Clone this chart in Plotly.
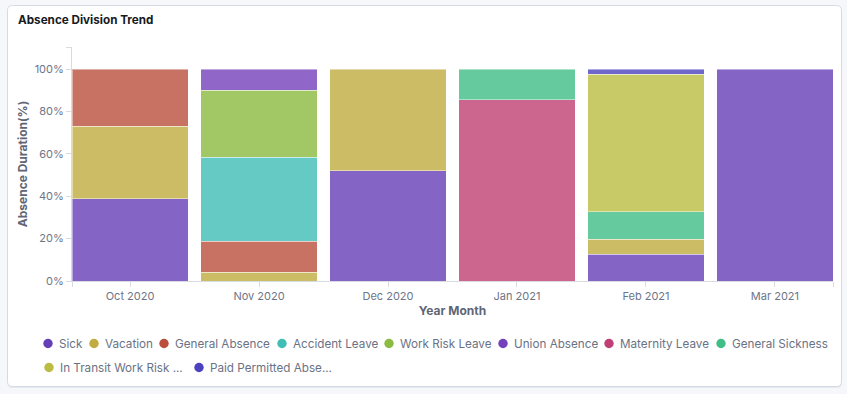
import plotly.graph_objects as go

# ---------------- data ----------------
months = ["Oct 2020", "Nov 2020", "Dec 2020", "Jan 2021", "Feb 2021", "Mar 2021"]
series_names = ["Sick", "Vacation", "General Absence", "Accident Leave", "Work Risk Leave",
                "Union Absence", "Maternity Leave", "General Sickness",
                "In Transit Work Risk Leave", "Paid Permitted Absence"]
legend_labels = ["Sick", "Vacation", "General Absence", "Accident Leave", "Work Risk Leave",
                 "Union Absence", "Maternity Leave", "General Sickness",
                 "In Transit Work Risk ...", "Paid Permitted Abse..."]

sick             = [38.7, None, 51.9, None, 12.6, 100.0]
vacation         = [34.4, 4.2, 48.1, None, 7.1, None]
general_absence  = [26.9, 14.6, None, None, None, None]
accident_leave   = [None, 39.5, None, None, None, None]
work_risk_leave  = [None, 31.8, None, None, None, None]
union_absence    = [None, 9.9, None, None, None, None]
maternity_leave  = [None, None, None, 85.4, None, None]
general_sickness = [None, None, None, 14.6, 13.0, None]
in_transit       = [None, None, None, None, 64.8, None]
paid_permitted   = [None, None, None, None, 2.5, None]

y_tick_values = [0, 20, 40, 60, 80, 100]
y_tick_labels = ["0%", "20%", "40%", "60%", "80%", "100%"]

# ---------------- styles ----------------
colors = ["#663fb8", "#c0ac40", "#bb4f3d", "#40beb6", "#8bbb41",
          "#7541bb", "#c04074", "#40be88", "#babd42", "#4c42c0"]
W, H = 847, 394
L, R, T, B = 72, 14, 47, 113
PW, PH = W - L - R, H - T - B
FONT = "Inter, Noto Sans, sans-serif"
AXIS_COL = "#d7dbe2"
TICK_COL = "#6e7588"
PAGE_BG = "#f6f7fa"


def px2x(px):
    return (px - L) / PW


def py2y(py):
    return (H - B - py) / PH


all_series = [sick, vacation, general_absence, accident_leave, work_risk_leave,
              union_absence, maternity_leave, general_sickness, in_transit, paid_permitted]
xidx = list(range(len(months)))

fig = go.Figure()
for name, vals, col in zip(series_names, all_series, colors):
    fig.add_trace(go.Bar(
        x=xidx, y=vals, name=name, showlegend=False,
        marker=dict(color=col, opacity=0.8,
                    line=dict(color="rgba(255,255,255,0.45)", width=1)),
    ))

# card background
def rounded_rect(x0, y0, x1, y1, r):
    X = lambda v: f"{px2x(v):.6f}"
    Y = lambda v: f"{py2y(v):.6f}"
    return (f"M {X(x0 + r)},{Y(y0)} L {X(x1 - r)},{Y(y0)} Q {X(x1)},{Y(y0)} {X(x1)},{Y(y0 + r)} "
            f"L {X(x1)},{Y(y1 - r)} Q {X(x1)},{Y(y1)} {X(x1 - r)},{Y(y1)} "
            f"L {X(x0 + r)},{Y(y1)} Q {X(x0)},{Y(y1)} {X(x0)},{Y(y1 - r)} "
            f"L {X(x0)},{Y(y0 + r)} Q {X(x0)},{Y(y0)} {X(x0 + r)},{Y(y0)} Z")

shapes = [
    dict(type="path", xref="paper", yref="paper", layer="below",
         path=rounded_rect(7.5, 6.5, 842, 388, 5), fillcolor="#e6e9ef", line=dict(width=0)),
    dict(type="path", xref="paper", yref="paper", layer="below",
         path=rounded_rect(7.5, 5.5, 841.5, 386.5, 5), fillcolor="#ffffff",
         line=dict(color="#d6dae3", width=1)),
]

# legend (circles + text)
legend_cx = [48, 94, 164, 282, 389, 503, 609, 721, 49, 199]
legend_cy = [343.5] * 8 + [367.5] * 2
annotations = []
for lab, col, cx, cy in zip(legend_labels, colors, legend_cx, legend_cy):
    shapes.append(dict(type="circle", xref="paper", yref="paper",
                       xsizemode="pixel", ysizemode="pixel",
                       xanchor=px2x(cx), yanchor=py2y(cy),
                       x0=-4.7, x1=4.7, y0=-4.7, y1=4.7,
                       fillcolor=col, line=dict(width=0)))
    annotations.append(dict(text=lab, xref="paper", yref="paper",
                            x=px2x(cx + 8.5), y=py2y(cy), xanchor="left", yanchor="middle",
                            showarrow=False, font=dict(family=FONT, size=11.7, color="#6b7285")))

annotations.append(dict(text="<b>Absence Division Trend</b>", xref="paper", yref="paper",
                        x=px2x(15.5), y=py2y(20.5), xanchor="left", yanchor="middle",
                        showarrow=False, font=dict(family=FONT, size=11.7, color="#161a22")))

fig.update_layout(
    width=W, height=H,
    margin=dict(l=L, r=R, t=T, b=B, autoexpand=False),
    paper_bgcolor=PAGE_BG, plot_bgcolor="rgba(0,0,0,0)",
    barmode="stack", bargap=0.1,
    font=dict(family=FONT, color=TICK_COL),
    shapes=shapes, annotations=annotations,
    showlegend=False,
    xaxis=dict(range=[-0.45, len(months) - 0.55],
               tickvals=[-0.45] + xidx + [len(months) - 0.55],
               ticktext=[""] + months + [""],
               ticks="outside", ticklen=5, tickcolor=AXIS_COL,
               showline=True, linecolor=AXIS_COL, linewidth=1,
               showgrid=False, zeroline=False, automargin=False,
               tickfont=dict(family=FONT, size=11, color=TICK_COL),
               title=dict(text="<b>Year Month</b>", standoff=4,
                          font=dict(family=FONT, size=12, color="#5f6676"))),
    yaxis=dict(range=[0, 110.4],
               tickvals=y_tick_values + [110.4],
               ticktext=y_tick_labels + [""],
               ticks="outside", ticklen=5, tickcolor=AXIS_COL,
               showline=True, linecolor=AXIS_COL, linewidth=1,
               showgrid=False, zeroline=False, automargin=False,
               tickfont=dict(family=FONT, size=11, color=TICK_COL),
               title=dict(text="<b>Absence Duration(%)</b>", standoff=4,
                          font=dict(family=FONT, size=12, color="#5f6676"))),
)

fig.write_html(
    "out.html",
    config={"displayModeBar": False},
    post_script=f"document.body.style.margin='0';document.body.style.background='{PAGE_BG}';",
)
